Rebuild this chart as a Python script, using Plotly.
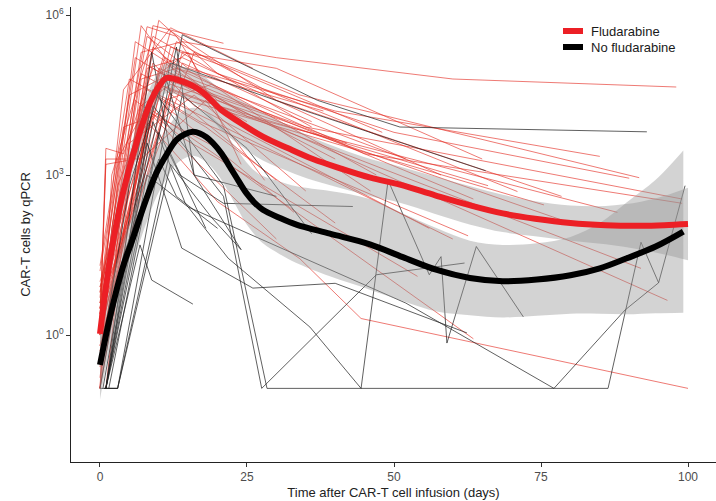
import plotly.graph_objects as go

# ---------------- data (log10 copies) ----------------
red_patient_days = [
    [0, 7, 14, 30, 60, 98], [0, 9, 21], [0, 8, 15, 40, 85], [0, 10, 20, 50, 90],
    [1, 7, 13, 45, 99], [0, 6, 12, 35, 99], [0, 11, 25, 92], [0, 8, 20, 34, 44.4, 100],
    [0, 9, 20, 96.5], [0, 12, 30, 78.5], [0, 7, 15, 75.5], [0, 10, 63.5],
    [0, 8, 17, 62.6], [0, 6, 14, 54], [0, 9, 22, 63.5], [0, 13, 28, 71],
    [0, 5, 12, 40], [0, 3, 10, 30], [0, 1, 7, 18, 28], [0, 1, 6, 11, 47],
    [0, 2, 9, 36], [0, 4, 12, 26], [0, 7, 13, 52], [0, 9, 18, 40],
    [0, 6, 11, 33], [0, 10, 15, 24], [0, 8, 14, 58], [0, 12, 22, 48],
    [0, 5, 10, 60], [0, 11, 19, 46], [0, 3, 8, 20], [0, 14, 30, 65],
    [0, 9, 16, 56], [0, 7, 12, 80], [0, 6, 13, 38], [0, 10, 25, 88],
    [0, 4, 9, 15, 30], [0, 8, 11, 42], [0, 12, 17, 66], [0, 5, 16, 35],
    [0, 1, 4, 9, 25], [0, 2, 8, 13, 17], [0, 3, 14, 36], [0, 16, 34, 91.7],
]
red_patient_log10 = [
    [0.3, 5.3, 5.5, 5.2, 4.8, 4.65], [-0.5, 5.8, 5.47], [0.5, 5.6, 5.0, 4.2, 3.35], [0.2, 5.9, 4.9, 3.8, 2.94],
    [-1, 4.8, 5.0, 3.4, 2.47], [0.8, 5.2, 4.8, 3.9, 2.55], [0.0, 5.1, 4.1, 1.25], [-1, 4.0, 2.5, 1.43, 0.31, -1.0],
    [0.5, 5.4, 4.4, 0.65], [1.0, 5.7, 4.4, 2.6], [0.1, 4.9, 4.4, 2.44], [-0.3, 5.0, 2.55],
    [0.6, 4.6, 4.0, 1.86], [-0.8, 4.4, 3.7, 1.1], [0.2, 4.2, 3.2, -0.07], [0.9, 5.5, 4.6, 2.69],
    [1.2, 4.5, 4.9, 3.3], [0.5, 3.3, 4.7, 2.9], [0.0, 3.3, 3.3, 4.4, 2.9], [0.3, 3.2, 3.3, 5.2, 3.0],
    [-1, 3.0, 5.6, 3.9], [0.7, 4.6, 5.76, 5.0], [0.4, 5.8, 4.9, 3.3], [-0.5, 4.5, 3.9, 2.1],
    [0.9, 3.7, 4.3, 2.3], [0.0, 4.9, 5.3, 3.2], [0.2, 5.0, 5.2, 3.0], [-0.2, 5.4, 5.0, 3.8],
    [1.3, 4.8, 4.5, 1.8], [0.5, 4.4, 4.7, 2.7], [0.1, 2.8, 4.2, 3.5], [0.3, 5.3, 5.0, 3.3],
    [0.8, 5.1, 4.3, 2.0], [-0.6, 4.3, 4.7, 2.1], [0.2, 5.5, 5.0, 4.2], [0.0, 4.7, 4.1, 2.3],
    [0.6, 3.9, 4.1, 3.4, 1.8], [0.4, 4.0, 4.8, 3.6], [-0.2, 4.6, 4.4, 2.8], [-1, 3.6, 4.5, 2.7],
    [0.2, 3.5, 3.4, 5.0, 4.0], [-1, 2.0, 5.78, 5.6, 4.9], [0.4, 1.5, 5.1, 4.0], [0.6, 5.3, 4.5, 2.95],
]

black_patient_days = [
    [0.7, 3, 14, 37, 51, 93], [1, 12, 35, 65.6], [1, 6.8, 8.8, 15.8],
    [1, 8, 11.3, 13.9, 26, 40, 62.4],
    [1, 9, 14.5, 21.8, 35.7, 44.4, 49, 56, 58, 59, 64, 72],
    [0.5, 9, 21, 27.5, 47, 62], [1, 9, 21, 28.4, 86.4, 92, 95],
    [1, 8, 15, 34, 52, 77.2, 89.3, 95, 99.5], [1, 10, 13.6, 21, 43],
    [1, 8.8, 12, 18], [1.5, 13, 16, 24], [0, 4, 10, 13, 20],
    [0, 3, 14, 25, 36], [0.7, 3, 12, 19, 24], [0, 5, 11, 16, 30],
]
black_patient_log10 = [
    [-1, -1, 5.63, 4.4, 3.9, 3.81], [-0.2, 5.1, 4.2, 3.08], [-1, 1.69, 1.03, 0.58],
    [-1, 3.6, 2.53, 1.63, 0.88, 0.97, 0.04],
    [-1, 4.0, 2.47, 1.44, 0.15, -1, 2.9, 1.13, 1.47, -0.15, 1.66, 0.34],
    [-1, 4.3, 2.6, -1, 1.13, 1.35], [-1, 4.6, 2.8, -1, -1, 1.74, 0.98],
    [-1, 3.0, 2.4, 1.48, 0.6, -1, 0.47, 0.98, 2.8], [-1, 3.8, 3.0, 2.47, 2.41],
    [-1, 5.3, 3.4, 2.0], [-1, 5.4, 3.0, 1.6], [-1, 1.5, 3.3, 2.6, 2.0],
    [-1, -1, 4.5, 3.5, 1.9], [-1, -1, 3.2, 2.2, 1.6], [-0.5, 2.8, 4.9, 3.0, 2.6],
]

# smoothed trends and confidence half-widths (log10 units)
red_smooth_days = [0, 1.7, 3.9, 6.2, 8.5, 10, 11.3, 12.7, 14.1, 15.8, 17.5, 19.2, 20.6, 23.3,
                   27.7, 32, 36.2, 41, 46, 51, 57, 63, 68.5, 74, 80, 86, 92, 96, 100]
red_smooth_log10 = [0.02, 1.41, 2.66, 3.60, 4.35, 4.66, 4.82, 4.80, 4.75, 4.67, 4.55, 4.37, 4.22, 4.02,
                    3.72, 3.50, 3.30, 3.12, 2.95, 2.82, 2.62, 2.43, 2.28, 2.18, 2.10, 2.06, 2.05, 2.06, 2.08]
red_ci_half = [0.45, 0.38, 0.33, 0.30, 0.28, 0.28, 0.28, 0.28, 0.28, 0.30, 0.32, 0.35, 0.38, 0.42,
               0.45, 0.43, 0.40, 0.37, 0.35, 0.34, 0.35, 0.36, 0.35, 0.33, 0.33, 0.36, 0.45, 0.55, 0.68]

black_smooth_days = [0, 1.7, 3.9, 5.5, 6.8, 8.2, 9.6, 11.3, 13, 14.5, 15.8, 17, 18.1, 19.2, 20.7, 22.1,
                     23.5, 24.9, 26.3, 27.7, 30.5, 33.4, 39.1, 45.9, 51.5, 57.3, 62.9, 68.5, 74.3,
                     80, 85, 89.6, 94.5, 99.2]
black_smooth_log10 = [-0.56, 0.34, 1.28, 1.78, 2.21, 2.65, 3.04, 3.38, 3.66, 3.77, 3.81, 3.78, 3.71, 3.60,
                      3.40, 3.15, 2.90, 2.66, 2.48, 2.35, 2.20, 2.07, 1.90, 1.70, 1.46, 1.22, 1.07, 1.01,
                      1.04, 1.12, 1.25, 1.44, 1.66, 1.94]
black_ci_half = [0.65, 0.55, 0.50, 0.47, 0.45, 0.45, 0.45, 0.45, 0.45, 0.45, 0.45, 0.46, 0.47, 0.48,
                 0.50, 0.52, 0.55, 0.58, 0.60, 0.63, 0.68, 0.72, 0.80, 0.85, 0.82, 0.78, 0.70, 0.68,
                 0.68, 0.72, 0.85, 1.05, 1.25, 1.52]

x_ticks = [0, 25, 50, 75, 100]
y_tick_vals = [1, 1e3, 1e6]
y_tick_text = ["10<sup>0</sup>", "10<sup>3</sup>", "10<sup>6</sup>"]
legend_labels = ["Fludarabine", "No fludarabine"]

RED = "#ec1f25"
BLACK = "#000000"

fig = go.Figure()

def pw(vals):
    return [10 ** v for v in vals]

for d, v in zip(red_patient_days, red_patient_log10):
    fig.add_trace(go.Scatter(x=d, y=pw(v), mode="lines", hoverinfo="skip", showlegend=False,
                             line=dict(color="rgba(228,40,30,0.62)", width=1)))
for d, v in zip(black_patient_days, black_patient_log10):
    fig.add_trace(go.Scatter(x=d, y=pw(v), mode="lines", hoverinfo="skip", showlegend=False,
                             line=dict(color="rgba(35,35,35,0.72)", width=1)))

band_fill = "rgba(150,150,150,0.42)"
for d, c, h in [(red_smooth_days, red_smooth_log10, red_ci_half),
                (black_smooth_days, black_smooth_log10, black_ci_half)]:
    up = [a + b for a, b in zip(c, h)]
    lo = [a - b for a, b in zip(c, h)]
    fig.add_trace(go.Scatter(x=d, y=pw(up), mode="lines", line=dict(width=0, shape="spline"),
                             hoverinfo="skip", showlegend=False))
    fig.add_trace(go.Scatter(x=d, y=pw(lo), mode="lines", line=dict(width=0, shape="spline"),
                             fill="tonexty", fillcolor=band_fill, hoverinfo="skip", showlegend=False))

fig.add_trace(go.Scatter(x=red_smooth_days, y=pw(red_smooth_log10), mode="lines",
                         line=dict(color=RED, width=6, shape="spline"), showlegend=False))
fig.add_trace(go.Scatter(x=black_smooth_days, y=pw(black_smooth_log10), mode="lines",
                         line=dict(color=BLACK, width=6, shape="spline"), showlegend=False))

# full-window figure; the page body margin is removed by a post script
FIG_W, FIG_H = 716, 501
L, R_, T, B = 71, 716, 7, 462          # plot area in page pixels


def px(x):
    return (x - L) / (R_ - L)


def py(y):
    return 1 - (y - T) / (B - T)


for color, label, yy in [(RED, legend_labels[0], 31), (BLACK, legend_labels[1], 47)]:
    fig.add_shape(type="line", xref="paper", yref="paper", x0=px(563), x1=px(583),
                  y0=py(yy), y1=py(yy), line=dict(color=color, width=6))
    fig.add_annotation(xref="paper", yref="paper", x=px(589), y=py(yy), text=label,
                       showarrow=False, xanchor="left", yanchor="middle",
                       font=dict(size=13, color="#1a1a1a", family="Liberation Sans, Arial"))

fig.update_layout(
    width=FIG_W, height=FIG_H,
    margin=dict(l=L, r=FIG_W - R_, t=T, b=FIG_H - B, autoexpand=False),
    paper_bgcolor="white", plot_bgcolor="white",
    font=dict(family="Liberation Sans, Arial", color="#333333"),
    showlegend=False,
)
fig.update_xaxes(range=[-4.93, 104.76], tickvals=x_ticks, showgrid=False, zeroline=False,
                 showline=True, linecolor="#222", linewidth=1, ticks="outside", ticklen=4,
                 tickcolor="#333", tickfont=dict(size=12, color="#4d4d4d"), automargin=False,
                 ticklabeloverflow="allow",
                 title=dict(text="Time after CAR-T cell infusion (days)", font=dict(size=13, color="#222"),
                            standoff=4))
fig.update_yaxes(type="log", range=[-2.38, 6.15], tickvals=y_tick_vals, ticktext=y_tick_text,
                 showgrid=False, zeroline=False, showline=True, linecolor="#222", linewidth=1,
                 ticks="outside", ticklen=4, tickcolor="#333", tickfont=dict(size=12, color="#4d4d4d"),
                 automargin=False, ticklabeloverflow="allow",
                 title=dict(text="CAR-T cells by qPCR", font=dict(size=13, color="#222"), standoff=12))

fig.write_html("out.html", config={"displayModeBar": False},
               post_script="document.body.style.margin='0';document.body.style.overflow='hidden';")
